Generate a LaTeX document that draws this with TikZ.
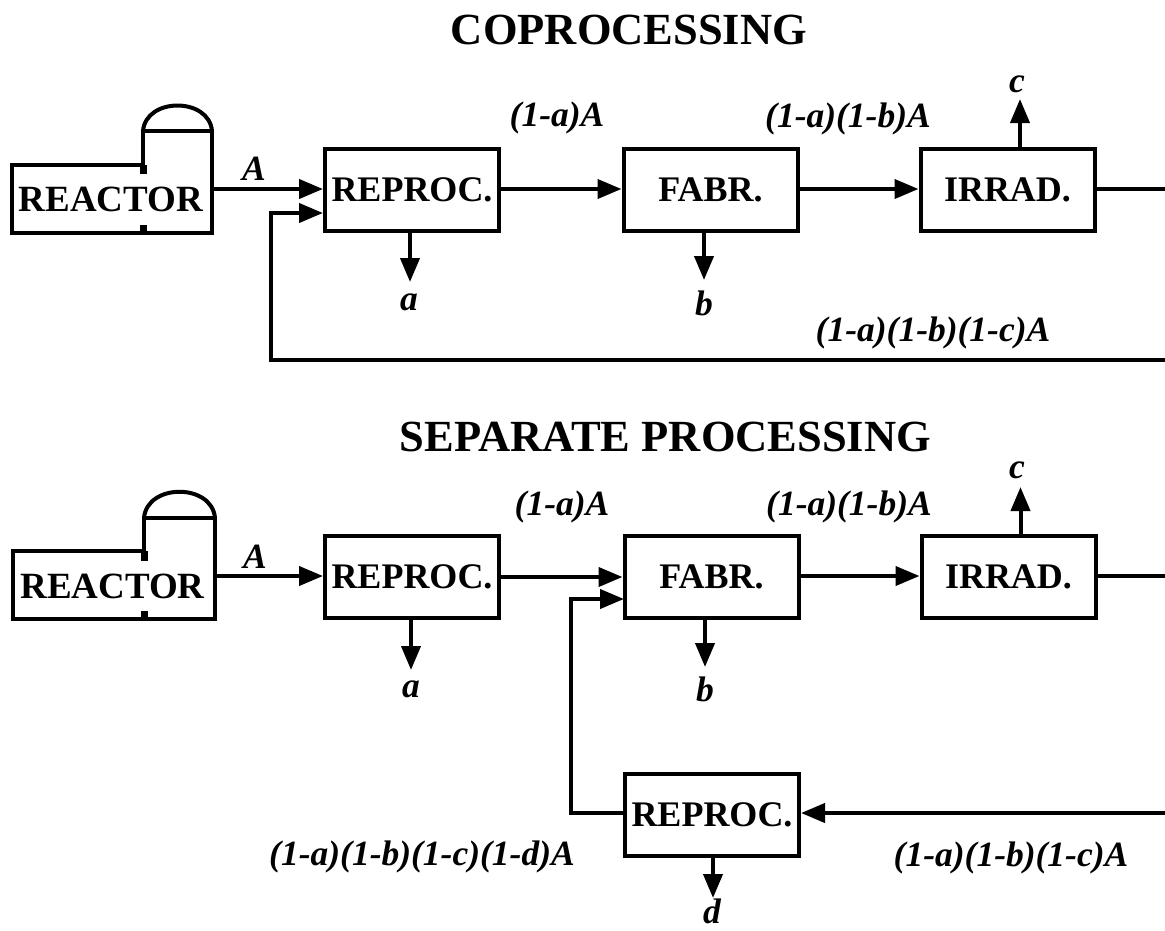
\documentclass[tikz,border=0pt]{standalone}
\usepackage{fontspec}
\setmainfont{Liberation Serif}
\usetikzlibrary{arrows.meta}
\tikzset{
 boxn/.style={draw=black,line width=4pt,minimum width=174pt,minimum height=82pt,inner sep=0pt,font=\fontsize{36}{36}\selectfont\bfseries},
 txtn/.style={inner sep=0pt,font=\fontsize{37}{37}\selectfont\bfseries},
 outl/.style={draw=black,line width=4pt,line join=miter},
 stub/.style={draw=black,line width=7pt},
 lnk/.style={draw=black,line width=4pt},
 arr/.style={lnk,-{Triangle[length=24pt,width=19pt]}},
 ttl/.style={inner sep=0pt,font=\fontsize{44.5}{44.5}\selectfont\bfseries},
 lbl/.style={inner sep=0pt,font=\fontsize{35.5}{35.5}\selectfont\bfseries\itshape},
}
\begin{document}
\begin{tikzpicture}[x=1pt,y=-1pt]
\useasboundingbox (0,0) rectangle (1165,930);
\node[ttl] (t1) at (629,30) {COPROCESSING};
\node[ttl] (t2) at (665.5,437) {SEPARATE PROCESSING};
% top row
\node[txtn] (re1) at (111,199) {REACTOR};
\path[outl] (143,165) -- (12,165) -- (12,233) -- (212,233) -- (212,131) -- (143,131) -- cycle;
\path[stub] (143,165) -- (143,174);
\path[stub] (143,225) -- (143,233);
\path[outl] (143,131) .. controls (146,97) and (209,97) .. (212,131);
\node[boxn] (p1) at (412,190) {REPROC.};
\node[boxn] (f1) at (710.5,190) {FABR.};
\node[boxn] (i1) at (1007.5,190) {IRRAD.};
\coordinate (re1o) at (212,189);
\coordinate (p1b) at (323,213);
\coordinate (rbend1) at (271,213);
\coordinate (rbot1) at (271,360);
\coordinate (rend1) at (1165,360);
\coordinate (iend1) at (1165,189);
\coordinate (a1) at (410,282);
\coordinate (b1) at (704,280);
\coordinate (c1) at (1020,99);
\draw[arr] (re1o) -- (re1o -| p1.west);
\draw[arr] (rend1) -- (rbot1) -- (rbend1) -- (p1b);
\draw[arr] (p1.east |- re1o) -- (f1.west |- re1o);
\draw[arr] (f1.east |- re1o) -- (i1.west |- re1o);
\draw[lnk] (i1.east |- iend1) -- (iend1);
\draw[arr] (a1 |- p1.south) -- (a1);
\draw[arr] (b1 |- f1.south) -- (b1);
\draw[arr] (c1 |- i1.north) -- (c1);
\node[lbl] (la1) at (254,169) {A};
\node[lbl] (l1) at (557,118) {(1-a)A};
\node[lbl] (l2) at (848,119) {(1-a)(1-b)A};
\node[lbl] (l3) at (409,302) {a};
\node[lbl] (l4) at (704,303) {b};
\node[lbl] (l5) at (1017,84) {c};
\node[lbl] (l6) at (933,333) {(1-a)(1-b)(1-c)A};
% bottom row
\node[txtn] (re2) at (112.5,586) {REACTOR};
\path[outl] (144,551) -- (13,551) -- (13,619) -- (215,619) -- (215,518) -- (144,518) -- cycle;
\path[stub] (144,551) -- (144,561);
\path[stub] (144,611) -- (144,619);
\path[outl] (144,518) .. controls (147,483) and (212,483) .. (215,518);
\node[boxn] (p2) at (412,577) {REPROC.};
\node[boxn] (f2) at (711.5,577) {FABR.};
\node[boxn] (i2) at (1008.5,577) {IRRAD.};
\node[boxn] (p3) at (712,815) {REPROC.};
\coordinate (re2o) at (215,576);
\coordinate (iend2) at (1165,576);
\coordinate (f2b) at (624,599);
\coordinate (rb2) at (571,599);
\coordinate (rb3) at (571,813);
\coordinate (rend2) at (1165,813);
\coordinate (a2) at (411,670);
\coordinate (b2) at (705,667);
\coordinate (c2) at (1020.5,487);
\coordinate (d2) at (713,898);
\draw[arr] (re2o) -- (re2o -| p2.west);
\draw[arr] (p2.east) -- (f2.west);
\draw[arr] (f2.east |- iend2) -- (i2.west |- iend2);
\draw[lnk] (i2.east |- iend2) -- (iend2);
\draw[arr] (p3.west |- rb3) -- (rb3) -- (rb2) -- (f2b);
\draw[arr] (rend2) -- (p3.east |- rend2);
\draw[arr] (a2 |- p2.south) -- (a2);
\draw[arr] (b2 |- f2.south) -- (b2);
\draw[arr] (c2 |- i2.north) -- (c2);
\draw[arr] (d2 |- p3.south) -- (d2);
\node[lbl] (m0) at (255,557) {A};
\node[lbl] (m1) at (562,507) {(1-a)A};
\node[lbl] (m2) at (849,507) {(1-a)(1-b)A};
\node[lbl] (m3) at (411,689) {a};
\node[lbl] (m4) at (705,689) {b};
\node[lbl] (m5) at (1017,470) {c};
\node[lbl] (m6) at (422,857) {(1-a)(1-b)(1-c)(1-d)A};
\node[lbl] (m7) at (1011,858) {(1-a)(1-b)(1-c)A};
\node[lbl] (m8) at (712,911) {d};
\end{tikzpicture}
\end{document}
